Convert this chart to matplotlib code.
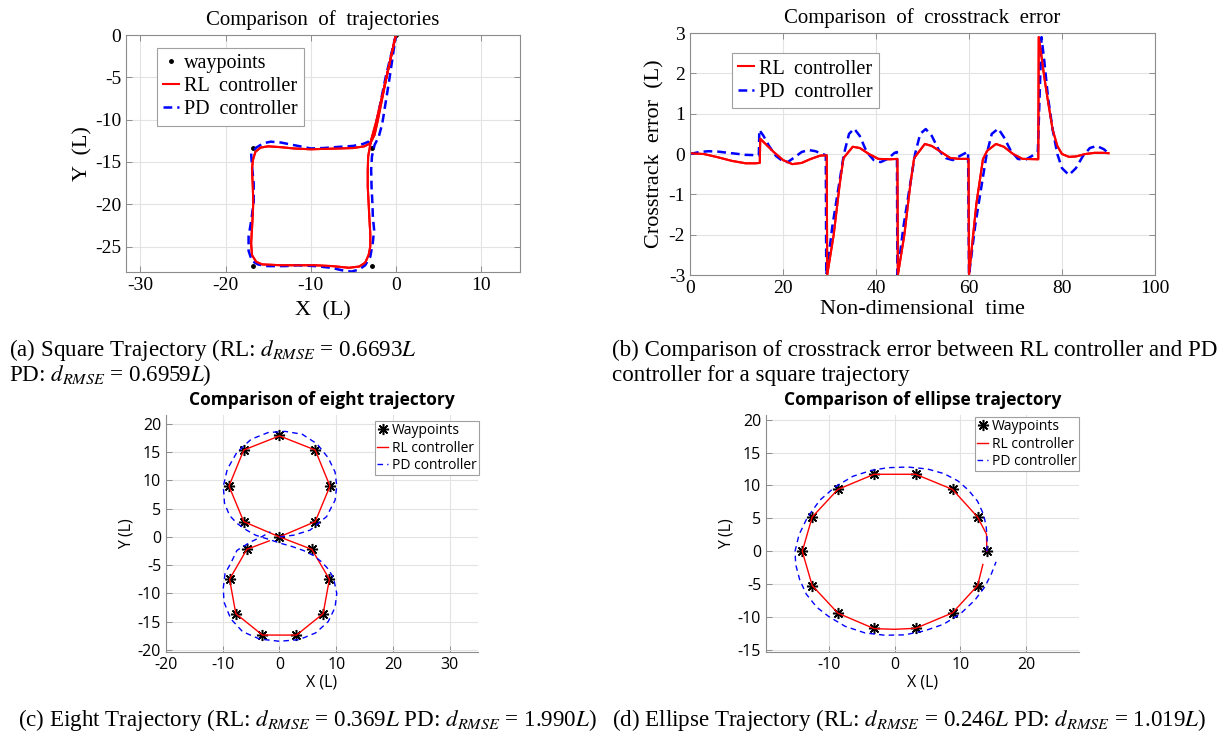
# recreate the four panel comparison figure (square / crosstrack / eight / ellipse)

import numpy as np
import matplotlib
matplotlib.use('Agg')
import matplotlib.pyplot as plt

plt.rcParams['axes.unicode_minus'] = False
plt.rcParams['mathtext.fontset'] = 'stix'

SERIF = 'Liberation Serif'
SANS = 'Open Sans'

# ---- (a) square trajectory ----
sq_wp_x = [0, -2.8, -16.8, -16.8, -2.8]
sq_wp_y = [0, -13.3, -13.3, -27.3, -27.3]

sq_rl_x = [0, -0.55, -1.1, -1.6, -2.1, -2.5, -3.0, -3.7, -5.0, -6.5, -8.5, -10.0, -12.0, -13.5,
           -15.0, -15.9, -16.5, -16.8, -16.9, -16.8, -16.75, -16.85, -17.0, -16.9, -16.4, -15.7,
           -13.5, -11.5, -9.6, -7.5, -5.5, -4.3, -3.6, -3.2, -3.0, -3.0, -3.1, -3.2, -3.3, -3.3,
           -3.25, -2.9, -2.35, -1.75, -1.15, -0.55, 0]
sq_rl_y = [0, -2.5, -5.0, -7.5, -10.0, -11.8, -12.8, -13.15, -13.35, -13.4, -13.45, -13.5, -13.4,
           -13.25, -13.15, -13.3, -13.8, -14.8, -15.9, -18.0, -19.8, -22.0, -24.6, -26.0, -26.8,
           -27.1, -27.2, -27.2, -27.2, -27.3, -27.5, -27.35, -26.9, -26.0, -25.0, -23.5, -21.8,
           -19.8, -17.9, -16.0, -14.35, -12.4, -10.4, -7.8, -5.2, -2.5, 0]

sq_pd_x = [0, -0.6, -1.2, -1.7, -2.2, -2.6, -3.2, -3.8, -5.0, -6.5, -8.5, -10.0, -12.0, -13.5,
           -14.7, -15.6, -16.4, -17.0, -16.9, -16.7, -16.7, -17.0, -17.3, -17.3, -16.9, -16.2,
           -15.1, -13.0, -11.6, -9.5, -7.6, -6.3, -5.2, -4.3, -3.6, -3.0, -2.7, -2.55, -2.7,
           -2.75, -2.85, -2.9, -2.8, -2.5, -2.0, -1.6, -1.2, -0.8, -0.4, 0]
sq_pd_y = [0, -2.5, -5.0, -7.5, -10.0, -11.8, -12.6, -12.85, -13.1, -13.2, -13.35, -13.4, -13.0,
           -12.7, -12.6, -12.8, -13.3, -14.0, -15.5, -17.5, -19.8, -22.0, -23.8, -25.5, -26.7,
           -27.1, -27.3, -27.3, -27.2, -27.3, -27.5, -27.8, -27.95, -27.7, -27.2, -26.2, -24.5,
           -23.0, -21.5, -19.85, -18.0, -15.9, -14.3, -13.0, -12.0, -10.5, -8.0, -5.5, -2.8, 0]

# ---- (b) crosstrack error ----
ct_rl_t = [0, 3, 6, 9, 12, 14, 15, 15.1, 16.5, 18, 20, 22, 24, 26, 28, 29.4, 29.5, 30.9, 32.2,
           33.0, 35.0, 36.5, 38.5, 40.5, 43.0, 44.6, 44.7, 46.1, 47.4, 48.2, 50.5, 52, 54, 56,
           58, 59.9, 60.0, 61.6, 63.0, 63.9, 65.8, 67.5, 69.5, 71.5, 74.9, 75.0, 75.5, 76.2,
           77.0, 78.0, 79.0, 80.0, 81.5, 83.0, 85.0, 87.0, 89.0, 90.0]
ct_rl_e = [0.02, 0.0, -0.08, -0.17, -0.23, -0.23, -0.22, 0.38, 0.22, 0.05, -0.15, -0.25, -0.22,
           -0.12, -0.04, -0.03, -3.0, -2.0, -0.74, -0.1, 0.18, 0.15, 0.0, -0.12, -0.13, -0.12,
           -3.0, -2.0, -0.74, -0.1, 0.25, 0.2, 0.05, -0.1, -0.12, -0.12, -3.0, -1.22, -0.13,
           0.08, 0.25, 0.18, 0.0, -0.12, -0.13, 2.9, 2.5, 1.9, 1.3, 0.6, 0.2, 0.0, -0.07, -0.06,
           0.0, 0.03, 0.03, 0.02]

ct_pd_t = [0, 2, 4, 6, 9, 12, 14.8, 14.9, 15.8, 17, 18.5, 20, 21, 22.5, 24, 25.5, 27, 28.5,
           29.2, 29.3, 30.6, 31.7, 33.1, 34.2, 35.3, 36.5, 38, 39.5, 41, 42.5, 44, 44.5, 44.6,
           45.9, 47.0, 48.4, 49.5, 50.7, 52, 53.5, 55, 56.5, 58, 59.8, 60.0, 61.3, 62.4, 63.8,
           64.9, 66.3, 67.5, 69, 70.5, 72, 73.5, 74.8, 75.6, 76.2, 77, 78, 79, 80, 81.5, 83,
           84.5, 86, 87.5, 89, 90]
ct_pd_e = [0.0, 0.05, 0.07, 0.06, 0.02, -0.02, -0.03, 0.6, 0.45, 0.2, -0.05, -0.18, -0.2,
           -0.08, 0.05, 0.1, 0.07, 0.0, -0.03, -3.0, -1.8, -1.0, 0.0, 0.5, 0.63, 0.45, 0.05,
           -0.15, -0.2, -0.12, 0.03, 0.05, -3.0, -1.8, -1.0, 0.0, 0.5, 0.62, 0.45, 0.1, -0.1,
           -0.15, -0.05, 0.06, -3.0, -1.8, -1.0, 0.0, 0.5, 0.63, 0.42, 0.08, -0.12, -0.15,
           -0.05, 0.05, 2.9, 2.3, 1.4, 0.6, 0.0, -0.35, -0.52, -0.35, -0.05, 0.15, 0.2, 0.12,
           0.02]

# ---- (c) eight trajectory ----
ei_wp_x = [0, 6.3, 8.9, 6.3, 0, -6.3, -8.9, -6.3, 5.7, 8.8, 7.7, 3.0, -3.0, -7.7, -8.8, -5.7]
ei_wp_y = [0, 2.7, 9.0, 15.4, 18.0, 15.4, 9.0, 2.7, -2.2, -7.5, -13.6, -17.4, -17.4, -13.6,
           -7.5, -2.2]

ei_rl_x = [0, 6.3, 8.9, 6.3, 0, -6.3, -8.9, -6.3, 0, 5.7, 8.8, 7.7, 3.0, -3.0, -7.7, -8.8,
           -5.75, -1.8]
ei_rl_y = [0, 2.7, 9.0, 15.4, 17.9, 15.4, 9.0, 2.7, 0, -2.2, -7.5, -13.6, -17.4, -17.4, -13.6,
           -7.5, -2.2, -0.7]

ei_pd_x = [0, 2.5, 5.4, 8.3, 9.8, 10.1, 9.8, 8.6, 6.6, 4.0, 1.0, -2.0, -5.0, -7.5, -9.2, -9.9,
           -9.7, -8.8, -7.5, -5.8, -4.2, -2.0, 0.1, 2.2, 4.2, 6.0, 7.4, 8.6, 9.5, 10.1, 9.8,
           8.6, 6.4, 3.5, 0, -3.5, -6.5, -8.6, -9.8, -9.9, -9.6, -8.6, -7.5, -5.1, -3.0, -1.6]
ei_pd_y = [0, 0.3, 1.2, 3.6, 6.5, 9.0, 11.5, 14.0, 16.5, 18.2, 18.7, 18.5, 17.3, 15.0, 12.0,
           9.0, 6.0, 3.8, 2.4, 1.2, 0.3, -0.4, -1.1, -1.7, -2.4, -3.3, -4.4, -5.7, -7.2, -10.0,
           -12.5, -15.0, -17.0, -18.2, -18.5, -18.1, -16.8, -14.5, -11.5, -9.0, -6.5, -4.7,
           -2.4, -0.9, 0.1, 0.9]

# ---- (d) ellipse trajectory ----
el_wp_x = [14.0, 12.6, 8.8, 3.2, -3.1, -8.6, -12.5, -14.0, -12.5, -8.6, -3.1, 3.2, 8.8, 12.6]
el_wp_y = [0, 5.2, 9.4, 11.75, 11.75, 9.4, 5.2, 0, -5.2, -9.35, -11.65, -11.65, -9.35, -5.2]

el_rl_x = [14.0, 13.95, 12.6, 8.8, 3.2, -3.1, -8.6, -12.5, -14.0, -12.5, -8.6, -3.1, 0, 3.2,
           8.8, 12.6, 13.4]
el_rl_y = [0, 2.6, 5.2, 9.4, 11.7, 11.7, 9.4, 5.2, 0, -5.2, -9.4, -11.75, -11.85, -11.7, -9.35,
           -5.2, -2.0]

el_pd_x = [14.0, 14.05, 13.9, 13.5, 12.6, 11.2, 9.6, 7.5, 5.0, 2.0, -1.0, -3.5, -6.3, -9.0,
           -11.3, -13.2, -14.5, -15.1, -15.0, -14.4, -13.4, -11.8, -10.0, -7.5, -4.5, -1.5,
           1.5, 4.5, 7.4, 10.0, 12.2, 13.7, 14.7, 15.4]
el_pd_y = [0, 1.8, 3.8, 5.6, 7.6, 9.3, 10.7, 11.8, 12.5, 12.8, 12.7, 12.3, 11.4, 9.8, 7.8, 5.2,
           2.5, 0, -2.0, -4.3, -6.5, -8.5, -9.9, -11.4, -12.4, -12.75, -12.7, -12.1, -11.1,
           -9.5, -7.4, -5.4, -3.4, -1.6]

captions = {
    'a': ['(a) Square Trajectory (RL: $d_{RMSE}$ = 0.6693$L$', 'PD: $d_{RMSE}$ = 0.6959$L$)'],
    'b': ['(b) Comparison of crosstrack error between RL controller and PD',
          'controller for a square trajectory'],
    'c': ['(c) Eight Trajectory (RL: $d_{RMSE}$ = 0.369$L$ PD: $d_{RMSE}$ = 1.990$L$)'],
    'd': ['(d) Ellipse Trajectory (RL: $d_{RMSE}$ = 0.246$L$ PD: $d_{RMSE}$ = 1.019$L$)'],
}

GRID = '#e3e3e3'
EDGE = '#8c8c8c'


# matlab-ish axes styling
def style_axes(ax, family, tsize, box=True):
    ax.grid(True, color=GRID, linewidth=0.8)
    ax.set_axisbelow(True)
    ax.tick_params(direction='in', length=4, width=0.7, colors=EDGE, labelcolor='black',
                   labelsize=tsize, top=box, right=box)
    for s in ax.spines.values():
        s.set_color(EDGE)
        s.set_linewidth(0.8)
    if not box:
        ax.spines['top'].set_visible(False)
        ax.spines['right'].set_visible(False)
    for lab in ax.get_xticklabels() + ax.get_yticklabels():
        lab.set_family(family)


def make_legend(ax, handles, labels, anchor, family, fsize, pad=0.3):
    leg = ax.legend(handles, labels, loc='upper left', bbox_to_anchor=anchor, borderaxespad=0,
                    fancybox=False, framealpha=1, edgecolor='#a0a0a0', handlelength=0.8,
                    handletextpad=0.25, borderpad=pad, labelspacing=0.2,
                    prop={'family': family, 'size': fsize})
    leg.get_frame().set_linewidth(0.8)
    return leg


fig = plt.figure(figsize=(12.2, 7.33), dpi=100)

# (a)
ax = fig.add_axes([0.1033, 0.6289, 0.323, 0.3233])
h1, = ax.plot(sq_wp_x, sq_wp_y, '.', color='black', markersize=5)
h2, = ax.plot(sq_rl_x, sq_rl_y, '-', color='red', linewidth=1.5)
h3, = ax.plot(sq_pd_x, sq_pd_y, '--', color='blue', linewidth=1.8, dashes=(3.5, 2))
ax.plot(sq_rl_x, sq_rl_y, '-', color='red', linewidth=1.5)
ax.set_xlim(-31.7, 14.6)
ax.set_ylim(-28, 0)
ax.set_xticks([-30, -20, -10, 0, 10])
ax.set_yticks([-25, -20, -15, -10, -5, 0])
style_axes(ax, SERIF, 14)
ax.set_title('Comparison  of  trajectories', family=SERIF, fontsize=15, pad=7)
ax.set_xlabel('X  (L)', family=SERIF, fontsize=16, labelpad=5)
ax.set_ylabel('Y  (L)', family=SERIF, fontsize=16, labelpad=2)
make_legend(ax, [h1, h2, h3], ['waypoints', 'RL  controller', 'PD  controller'],
            (0.079, 0.945), SERIF, 14.5)

# (b)
ax = fig.add_axes([0.5656, 0.6248, 0.3811, 0.3301])
h2, = ax.plot(ct_rl_t, ct_rl_e, '-', color='red', linewidth=1.5)
h3, = ax.plot(ct_pd_t, ct_pd_e, '--', color='blue', linewidth=1.8, dashes=(3.5, 2))
ax.plot(ct_rl_t, ct_rl_e, '-', color='red', linewidth=1.5)
ax.set_xlim(0, 100)
ax.set_ylim(-3, 3)
ax.set_xticks([0, 20, 40, 60, 80, 100])
ax.set_yticks([-3, -2, -1, 0, 1, 2, 3])
style_axes(ax, SERIF, 14)
ax.set_title('Comparison  of  crosstrack  error', family=SERIF, fontsize=15, pad=7)
ax.set_xlabel('Non-dimensional  time', family=SERIF, fontsize=16, labelpad=2)
ax.set_ylabel('Crosstrack  error  (L)', family=SERIF, fontsize=16, labelpad=3)
make_legend(ax, [h2, h3], ['RL  controller', 'PD  controller'], (0.09, 0.916), SERIF, 14.5)

# (c)
star = (8, 2, 0)
ax = fig.add_axes([0.1361, 0.1105, 0.2557, 0.3233])
h1, = ax.plot(ei_wp_x, ei_wp_y, linestyle='none', marker=star, color='black', markersize=8,
              markeredgewidth=1.1)
h2, = ax.plot(ei_rl_x, ei_rl_y, '-', color='red', linewidth=1.0)
h3, = ax.plot(ei_pd_x, ei_pd_y, '--', color='blue', linewidth=1.0, dashes=(4, 3))
ax.set_xlim(-20, 35)
ax.set_ylim(-20.4, 21.6)
ax.set_xticks([-20, -10, 0, 10, 20, 30])
ax.set_yticks([-20, -15, -10, -5, 0, 5, 10, 15, 20])
style_axes(ax, SANS, 11.5, box=False)
ax.set_title('Comparison of eight trajectory', family=SANS, fontsize=12.5, fontweight='bold',
             pad=7)
ax.set_xlabel('X (L)', family=SANS, fontsize=11.5, labelpad=1)
ax.set_ylabel('Y (L)', family=SANS, fontsize=11.5, labelpad=2)
make_legend(ax, [h1, h2, h3], ['Waypoints', 'RL controller', 'PD controller'],
            (0.67, 0.976), SANS, 10, pad=0.15)

# (d)
ax = fig.add_axes([0.6279, 0.1105, 0.2566, 0.3233])
h1, = ax.plot(el_wp_x, el_wp_y, linestyle='none', marker=star, color='black', markersize=8,
              markeredgewidth=1.1)
h2, = ax.plot(el_rl_x, el_rl_y, '-', color='red', linewidth=1.0)
h3, = ax.plot(el_pd_x, el_pd_y, '--', color='blue', linewidth=1.0, dashes=(4, 3))
ax.set_xlim(-19.5, 28)
ax.set_ylim(-15.3, 20.7)
ax.set_xticks([-10, 0, 10, 20])
ax.set_yticks([-15, -10, -5, 0, 5, 10, 15, 20])
style_axes(ax, SANS, 11.5, box=False)
ax.set_title('Comparison of ellipse trajectory', family=SANS, fontsize=12.5, fontweight='bold',
             pad=7)
ax.set_xlabel('X (L)', family=SANS, fontsize=11.5, labelpad=1)
ax.set_ylabel('Y (L)', family=SANS, fontsize=11.5, labelpad=2)
make_legend(ax, [h1, h2, h3], ['Waypoints', 'RL controller', 'PD controller'],
            (0.668, 0.993), SANS, 10, pad=0.15)

# captions under each panel
W, H = 1220.0, 733.0
cap_kw = dict(family=SERIF, fontsize=16.6, va='center', ha='left')
fig.text(9 / W, 1 - 350 / H, captions['a'][0], **cap_kw)
fig.text(9 / W, 1 - 375 / H, captions['a'][1], **cap_kw)
fig.text(612 / W, 1 - 350 / H, captions['b'][0], **cap_kw)
fig.text(612 / W, 1 - 375 / H, captions['b'][1], **cap_kw)
fig.text(18 / W, 1 - 720 / H, captions['c'][0], **cap_kw)
fig.text(612 / W, 1 - 720 / H, captions['d'][0], **cap_kw)

fig.savefig('out.png', dpi=100)
